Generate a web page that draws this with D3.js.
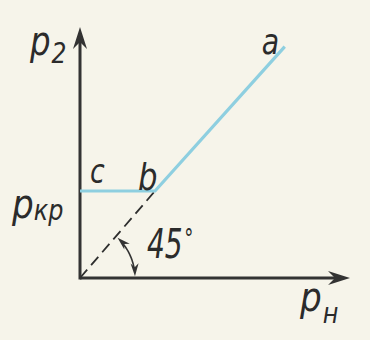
<!DOCTYPE html>
<html><head><meta charset="utf-8">
<script src="https://cdn.jsdelivr.net/npm/d3@7"></script>
<style>
html,body{margin:0;padding:0;background:#f6f4ea;}
svg{display:block;}
text{font-family:"Liberation Sans Narrow","DejaVu Sans Condensed","Liberation Sans",sans-serif;font-style:italic;fill:#2b2b2b;}
</style></head>
<body><svg id="c" width="370" height="340"></svg>
<script>
// Data
const lineX = [0, 1, 2.73];        // p_H along c - b - a
const lineY = [1, 1, 2.66];        // p_2 along c - b - a
const pointNames = ["c", "b", "a"];
const diagX = [0, 1];              // dashed 45° line
const diagY = [0, 1];
const axisMax = {x: 3.6, y: 2.885};
const angleText = ["45", "°"];
const yLabel = ["p", "2"];
const xLabel = ["p", "н"];
const critLabel = ["p", "кр"];

const svg = d3.select("#c");
const x = d3.scaleLinear().domain([0, axisMax.x]).range([80, 350]);
const y = d3.scaleLinear().domain([0, axisMax.y]).range([278, 27]);

const ink = "#333";
// axes
svg.append("line").attr("x1", x(0)).attr("y1", y(0)).attr("x2", x(axisMax.x) - 10).attr("y2", y(0))
  .attr("stroke", ink).attr("stroke-width", 3);
svg.append("line").attr("x1", x(0)).attr("y1", y(0) + 1.5).attr("x2", x(0)).attr("y2", y(axisMax.y) + 10)
  .attr("stroke", ink).attr("stroke-width", 3);
function arrowHead(tx, ty, ang, len, half, notch) {
  const c = Math.cos(ang), s = Math.sin(ang);
  const p = (a, b) => [tx - a * c - b * s, ty - a * s + b * c];
  return [p(0, 0), p(len, -half), p(notch, 0), p(len, half)];
}
svg.append("path").attr("d", d3.line()(arrowHead(x(axisMax.x), y(0), 0, 22, 7, 15)) + "Z").attr("fill", ink);
svg.append("path").attr("d", d3.line()(arrowHead(x(0), y(axisMax.y), -Math.PI / 2, 22, 7, 15)) + "Z").attr("fill", ink);

// dashed diagonal
svg.append("path").attr("d", d3.line().x((d, i) => x(diagX[i])).y((d, i) => y(diagY[i]))(diagX))
  .attr("stroke", "#2e2e2e").attr("stroke-width", 1.8).attr("fill", "none").attr("stroke-dasharray", "11,6");

// characteristic line c-b-a
svg.append("path").attr("d", d3.line().x((d, i) => x(lineX[i])).y((d, i) => y(lineY[i]))(lineX))
  .attr("stroke", "#8ecfe0").attr("stroke-width", 3.2).attr("fill", "none").attr("stroke-linejoin", "round");

// angle arc with arrows
const r = 55;
const ox = x(0), oy = y(0);
const angDiag = Math.atan2(y(0) - y(diagY[1]), x(diagX[1]) - x(0));
const a0 = 0.03, a1 = angDiag - 0.04;
const arcPts = d3.range(0, 1.0001, 0.05).map(t => {
  const a = a0 + (a1 - a0) * t; return [ox + r * Math.cos(a), oy - r * Math.sin(a)];
});
svg.append("path").attr("d", d3.line()(arcPts.slice(3, arcPts.length - 3))).attr("stroke", ink).attr("stroke-width", 1.6).attr("fill", "none");
function arcHead(a, dir) {
  const tx = ox + r * Math.cos(a), ty = oy - r * Math.sin(a);
  const ang = dir > 0 ? Math.atan2(-Math.cos(a), -Math.sin(a)) : Math.atan2(Math.cos(a), Math.sin(a));
  return d3.line()(arrowHead(tx, ty, ang, 13, 4, 9)) + "Z";
}
svg.append("path").attr("d", arcHead(a1, 1)).attr("fill", ink);
svg.append("path").attr("d", arcHead(a0, -1)).attr("fill", ink);

// labels: one text element each, with a shifted tspan for sub/superscripts
function lab(parts, px, py, sx, sizes, dxs, dys) {
  const e = svg.append("text").attr("transform", `translate(${px},${py}) scale(${sx},1)`);
  parts.forEach((s, i) => {
    e.append("tspan").attr("font-size", sizes[i]).attr("dx", dxs[i] || 0).attr("dy", dys[i] || 0).text(s);
  });
  return e;
}
lab(yLabel, 30, 55, 0.9, [40, 29], [0, 1], [0, 8]);
lab(critLabel, 12, 218, 0.95, [40, 28], [0, 0], [0, 2]);
lab(xLabel, 300, 311, 0.95, [40, 28], [0, 1], [0, 12]);
lab([pointNames[0]], x(lineX[0]) + 10, y(lineY[0]) - 8, 0.9, [33], [0], [0]);
lab([pointNames[1]], x(lineX[1]) - 17, y(lineY[1]) - 1, 0.9, [38], [0], [0]);
lab([pointNames[2]], x(lineX[2]) - 23, y(lineY[2]) + 7, 0.9, [35], [0], [0]);
lab(angleText, 147, 258, 0.78, [40, 26], [0, 2], [0, -10]);
</script></body></html>
